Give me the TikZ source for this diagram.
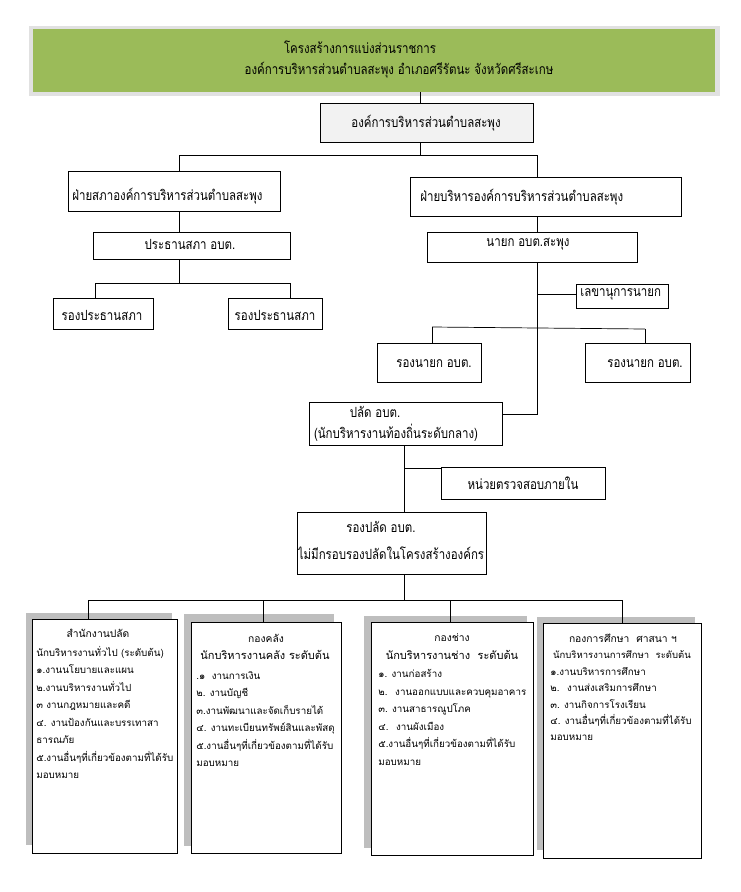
\documentclass[tikz,border=0pt]{standalone}
\usepackage{fontspec}
\usetikzlibrary{fit}
\newfontfamily\thai[Script=Thai]{Loma}
\newfontfamily\thaic[Script=Thai,FakeStretch=0.82]{Loma}
\definecolor{titlegreen}{RGB}{155,187,89}
\definecolor{titleframe}{RGB}{225,225,225}
\definecolor{orgfill}{RGB}{242,242,242}
\definecolor{shadowgray}{RGB}{190,190,190}
\begin{document}
\begin{tikzpicture}[x=1pt,y=-1pt,line width=0.7pt,
  bx/.style={draw=black,line width=0.8pt,inner sep=0pt,rectangle},
  up/.style={font=\thaic\fontsize{14}{16}\selectfont,inner sep=0pt},
  ttl/.style={font=\thaic\fontsize{14}{16}\selectfont,inner sep=0pt},
  hd/.style={font=\thai\fontsize{10.3}{12}\selectfont,inner sep=0pt},
  body/.style={font=\thai\fontsize{9.8}{17.5}\selectfont,inner sep=0pt,align=left,anchor=north west},
  shd/.style={fill=shadowgray,draw=none,inner sep=0pt,rectangle}]
\useasboundingbox (0,0) rectangle (740,892);
\fill[white] (0,0) rectangle (740,892);

% title
\node[fill=titleframe,inner sep=0pt,fit={(29,26) (720,96)}] (tframe) {};
\node[fill=titlegreen,inner sep=0pt,fit={(33,29) (715,92)}] (title) {};
\node[ttl] (t1) at (360,47) {โครงสร้างการแบ่งส่วนราชการ};
\node[ttl] (t2) at (399,70) {องค์การบริหารส่วนตำบลสะพุง อำเภอศรีรัตนะ จังหวัดศรีสะเกษ};

% upper boxes
\node[bx,fill=orgfill,fit={(320,103) (533,142)}] (org) {};
\node[up] (orgt) at (426,123) {องค์การบริหารส่วนตำบลสะพุง};

\node[bx,fill=white,fit={(68,171) (280,211)}] (council) {};
\node[up,anchor=west] (councilt) at (72,196) {ฝ่ายสภาองค์การบริหารส่วนตำบลสะพุง};

\node[bx,fill=white,fit={(410,177) (681,216)}] (exec) {};
\node[up,anchor=west] (exect) at (420,197) {ฝ่ายบริหารองค์การบริหารส่วนตำบลสะพุง};

\node[bx,fill=white,fit={(93,232) (290,259)}] (chair) {};
\node[up] (chairt) at (190,244) {ประธานสภา อบต.};

\node[bx,fill=white,fit={(53,298) (153,329)}] (vc1) {};
\node[up] (vc1t) at (102,315) {รองประธานสภา};
\node[bx,fill=white,fit={(228,298) (322,329)}] (vc2) {};
\node[up] (vc2t) at (275,315) {รองประธานสภา};

\node[bx,fill=white,fit={(427,232) (637,262)}] (mayor) {};
\node[up] (mayort) at (528,244) {นายก อบต.สะพุง};

\node[bx,fill=white,fit={(576,284) (668,308)}] (sec) {};
\node[up,anchor=west] (sect) at (580,294) {เลขานุการนายก};

\node[bx,fill=white,fit={(377,343) (481,382)}] (dm1) {};
\node[up] (dm1t) at (434,364) {รองนายก อบต.};
\node[bx,fill=white,fit={(585,343) (690,382)}] (dm2) {};
\node[up] (dm2t) at (645,364) {รองนายก อบต.};

\node[bx,fill=white,fit={(309,402) (502,445)}] (palad) {};
\node[up] (palad1) at (375,412) {ปลัด อบต.};
\node[up] (palad2) at (396,433) {(นักบริหารงานท้องถิ่นระดับกลาง)};

\node[bx,fill=white,fit={(441,467) (605,499)}] (audit) {};
\node[up] (auditt) at (523,483) {หน่วยตรวจสอบภายใน};

\node[bx,fill=white,fit={(297,512) (486,574)}] (dep) {};
\node[up] (dep1) at (381,527) {รองปลัด อบต.};
\node[up] (dep2) at (391,553) {ไม่มีกรอบรองปลัดในโครงสร้างองค์กร};

% connectors upper
\coordinate (hL) at (179,155);
\coordinate (hR) at (537,155);
\coordinate (j2L) at (95,283);
\coordinate (j2R) at (290,283);
\coordinate (sj) at (537,294);
\coordinate (dmL) at (432,327);
\coordinate (dmR) at (645,329);
\coordinate (pk) at (537,414);
\coordinate (ax) at (404,468);
\coordinate (bL) at (88,600);
\coordinate (bR) at (622,600);
\coordinate (b2j) at (263,600);
\coordinate (b3j) at (450,600);

\draw (org.north -| 420,0) -- (title.south -| 420,0);
\draw (org.south -| 420,0) -- (420,155);
\draw (hL) -- (hR);
\draw (hL) -- (hL |- council.north);
\draw (hR) -- (hR |- exec.north);
\draw (hL |- council.south) -- (hL |- chair.north);
\draw (hL |- chair.south) -- (hL |- j2L);
\draw (j2L) -- (j2R);
\draw (j2L) -- (j2L |- vc1.north);
\draw (j2R) -- (j2R |- vc2.north);
\draw (hR |- exec.south) -- (hR |- mayor.north);
\draw (hR |- mayor.south) -- (pk) -- (pk -| palad.east);
\draw (sj) -- (sj -| sec.west);
\draw (dmL) -- (dmR);
\draw (dmL) -- (dmL |- dm1.north);
\draw (dmR) -- (dmR |- dm2.north);
\draw (ax |- palad.south) -- (ax |- dep.north);
\draw (ax) -- (ax -| audit.west);
\draw (ax |- dep.south) -- (ax |- bL);
\draw (bL) -- (bR);

% bottom boxes
\node[shd,fit={(26,613) (172,845)}] (s1) {};
\node[bx,fill=white,fit={(32,619) (177,853)}] (b1) {};
\node[shd,fit={(184,614) (334,846)}] (s2) {};
\node[bx,fill=white,fit={(191,622) (341,853)}] (b2) {};
\node[shd,fit={(364,616) (527,848)}] (s3) {};
\node[bx,fill=white,fit={(371,622) (533,855)}] (b3) {};
\node[shd,fit={(537,617) (695,850)}] (s4) {};
\node[bx,fill=white,fit={(543,623) (701,858)}] (b4) {};

\draw (bL) -- (bL |- b1.north);
\draw (b2j) -- (b2j |- b2.north);
\draw (b3j) -- (b3j |- b3.north);
\draw (bR) -- (bR |- b4.north);

\node[hd] (b1h) at (98,633) {สำนักงานปลัด};
\node[body] (b1b) at (36,646) {นักบริหารงานทั่วไป (ระดับต้น)\\๑.งานนโยบายและแผน\\๒.งานบริหารงานทั่วไป\\๓ งานกฎหมายและคดี\\๔. งานป้องกันและบรรเทาสา\\ธารณภัย\\๕.งานอื่นๆที่เกี่ยวข้องตามที่ได้รับ\\มอบหมาย};

\node[hd] (b2h) at (266,638) {กองคลัง};
\node[hd,font=\thai\fontsize{11}{12}\selectfont] (b2s) at (265,655) {นักบริหารงานคลัง ระดับต้น};
\node[body] (b2b) at (196,671) {.๑~ งานการเงิน\\๒. งานบัญชี\\๓.งานพัฒนาและจัดเก็บรายได้\\๔. งานทะเบียนทรัพย์สินและพัสดุ\\๕.งานอื่นๆที่เกี่ยวข้องตามที่ได้รับ\\มอบหมาย};

\node[hd] (b3h) at (452,638) {กองช่าง};
\node[hd,font=\thai\fontsize{11}{12}\selectfont] (b3s) at (452,655) {นักบริหารงานช่าง~ ระดับต้น};
\node[body] (b3b) at (378,669) {๑. งานก่อสร้าง\\๒.~ งานออกแบบและควบคุมอาคาร\\๓. งานสาธารณูปโภค\\๔.~ งานผังเมือง\\๕.งานอื่นๆที่เกี่ยวข้องตามที่ได้รับ\\มอบหมาย};

\node[hd] (b4h) at (623,638) {กองการศึกษา~ ศาสนา ฯ};
\node[hd,font=\thai\fontsize{9.5}{12}\selectfont] (b4s) at (622,655) {นักบริหารงานการศึกษา~ ระดับต้น};
\node[body,font=\thai\fontsize{9.8}{16.3}\selectfont] (b4b) at (550,667) {๑.งานบริหารการศึกษา\\๒.~ งานส่งเสริมการศึกษา\\๓. งานกิจการโรงเรียน\\๔. งานอื่นๆที่เกี่ยวข้องตามที่ได้รับ\\มอบหมาย};
\end{tikzpicture}
\end{document}
